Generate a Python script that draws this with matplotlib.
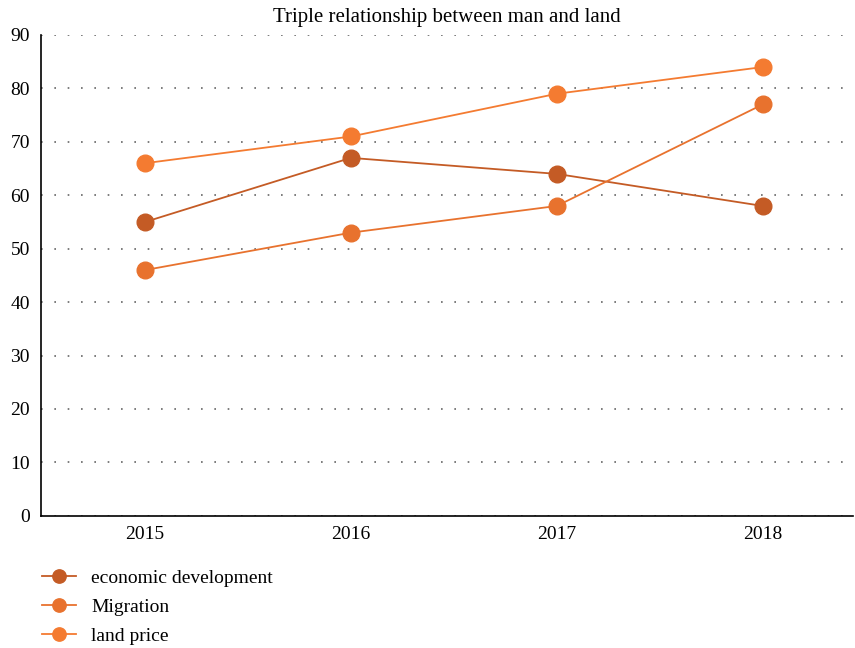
import matplotlib.pyplot as plt

plt.rcParams['font.family'] = ['Liberation Serif', 'DejaVu Serif']

# data
years = ['2015', '2016', '2017', '2018']
economic = [55, 67, 64, 58]
migration = [46, 53, 58, 77]
land_price = [66, 71, 79, 84]

fig = plt.figure(figsize=(8.55, 6.48), dpi=100)
ax = fig.add_axes([0.048, 0.204, 0.95, 0.742])

x = range(len(years))
ax.plot(x, economic, marker='o', color='#C45B25', markersize=12, lw=1.3, label='economic development')
ax.plot(x, migration, marker='o', color='#E8722E', markersize=12, lw=1.3, label='Migration')
ax.plot(x, land_price, marker='o', color='#F47B31', markersize=12, lw=1.3, label='land price')

ax.set_xlim(-0.505, 3.44)
ax.set_ylim(0, 90)
ax.set_yticks(range(0, 91, 10))
ax.set_xticks(list(x))
ax.set_xticklabels(years)
ax.tick_params(length=0, labelsize=14, pad=7)
ax.tick_params(axis='y', pad=8)
ax.yaxis.grid(True, linestyle=(0, (1, 7)), color='#666666', lw=1.2)
ax.set_axisbelow(True)
for s in ['top', 'right']:
    ax.spines[s].set_visible(False)
ax.spines['left'].set_linewidth(1.2)
ax.spines['bottom'].set_linewidth(1.2)

ax.set_title('Triple relationship between man and land', fontsize=15, pad=9)

fig.legend(loc='upper left', bbox_to_anchor=(0.029, 0.148), frameon=False,
           fontsize=14, handlelength=1.75, handletextpad=0.75,
           labelspacing=0.58, markerscale=0.8)

fig.savefig('out.png', dpi=100)
